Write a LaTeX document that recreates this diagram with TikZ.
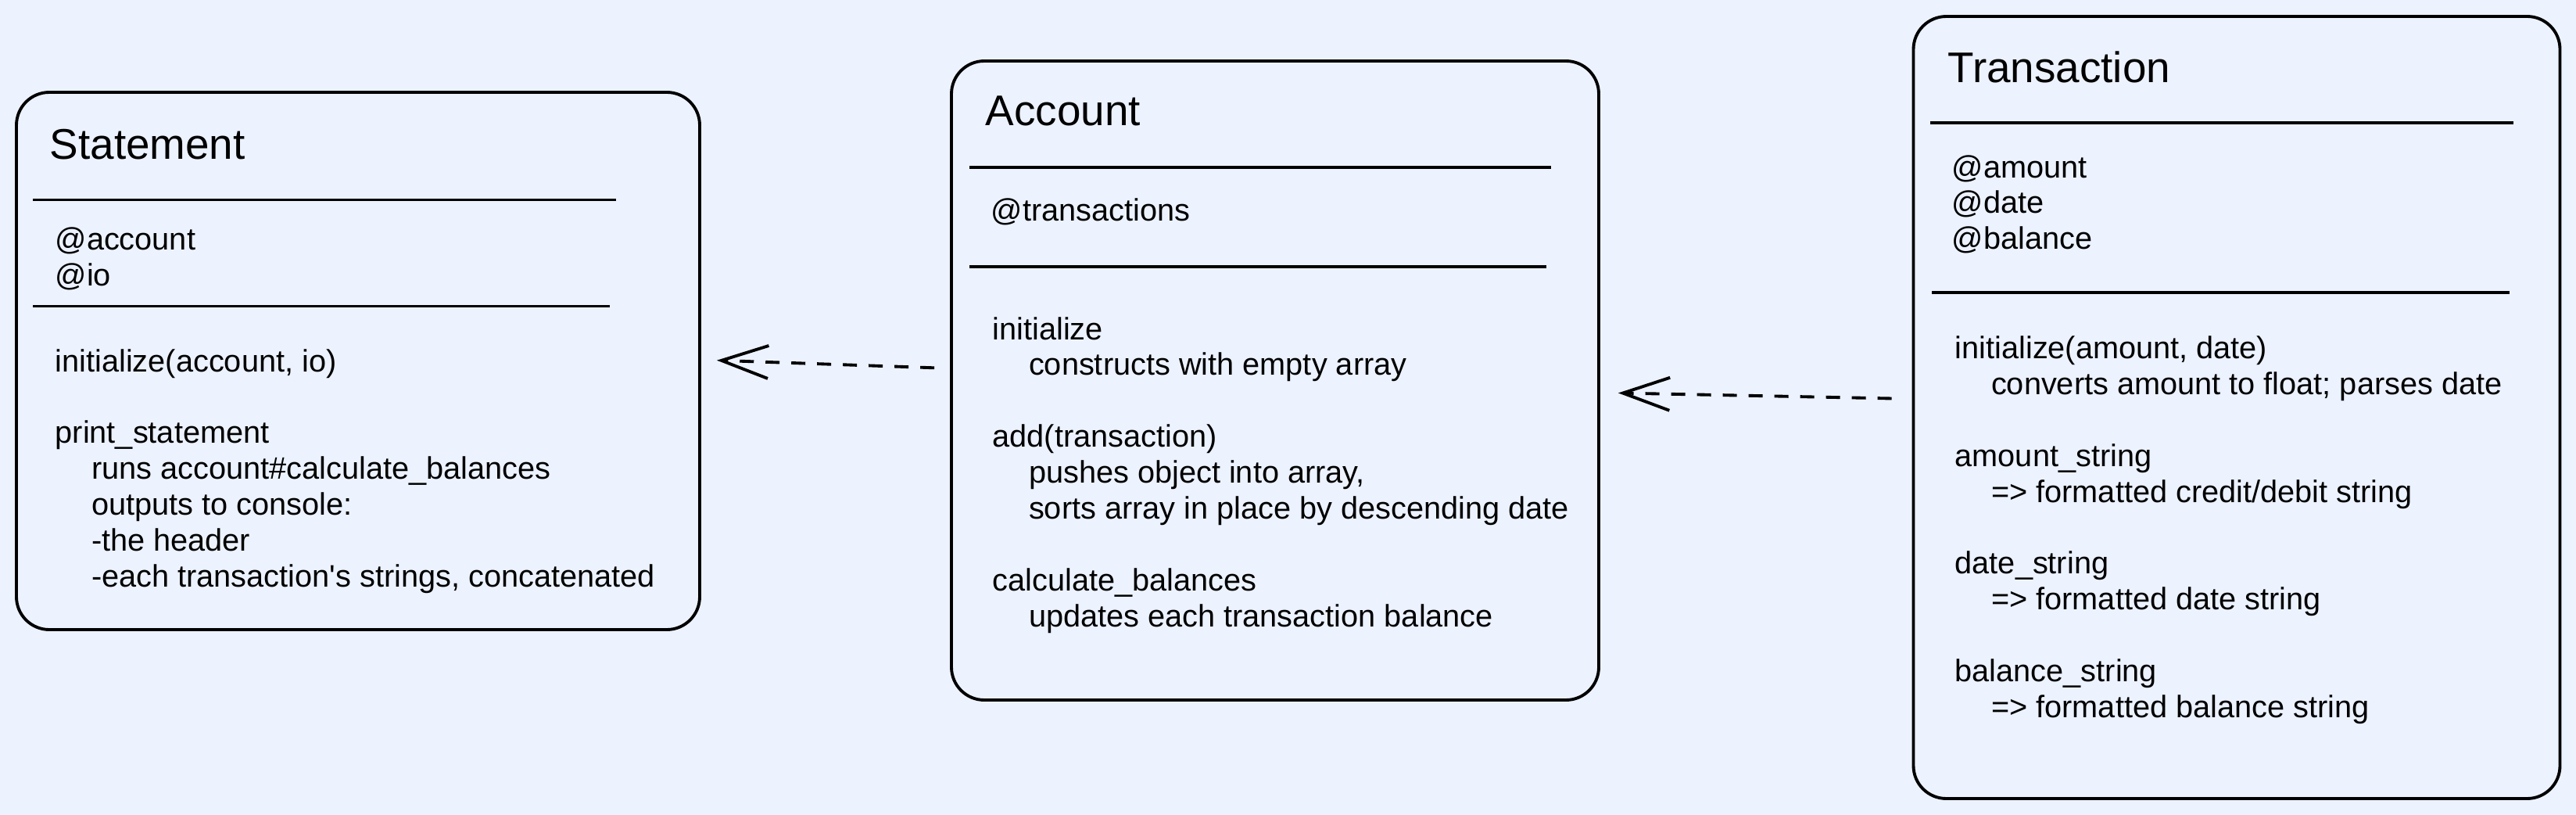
\documentclass[tikz,border=0pt]{standalone}
\usepackage{fontspec}
\setmainfont{Liberation Sans}
\usepackage{xcolor}
\usepackage{tikz}
\usetikzlibrary{arrows.meta}
\definecolor{paper}{RGB}{236,242,254}
\tikzstyle{classbox} = [rectangle, rounded corners=0.42cm, draw=black, line width=1.1pt, inner sep=0pt]
\tikzstyle{classname} = [anchor=base west, inner sep=0pt, font=\fontsize{15.6}{18}\selectfont]
\tikzstyle{members} = [anchor=base west, inner sep=0pt, font=\fontsize{11.3}{13.06}\selectfont]
\tikzstyle{rule} = [line width=1.1pt]
\tikzstyle{depend} = [line width=1.1pt, dash pattern=on 0.18cm off 0.15cm, -{Straight Barb[length=0.6cm,width=0.42cm]}]
\newcommand{\ind}{\hspace*{13.2pt}}
\newcommand{\memberlist}[1]{\begin{tabular}[t]{@{}l@{}}#1\end{tabular}}

\begin{document}
\begin{tikzpicture}

				% Background and page size
				\fill[paper] (0,0) rectangle (32.95,-10.42);
				\useasboundingbox (0,0) rectangle (32.95,-10.42);

				% Class boxes
				\node (stmt) [classbox, minimum width=8.74cm, minimum height=6.87cm] at (4.58,-4.615) {};
				\node (acct) [classbox, minimum width=8.28cm, minimum height=8.17cm] at (16.31,-4.865) {};
				\node (trans) [classbox, minimum width=8.27cm, minimum height=10.0cm] at (28.61,-5.21) {};

				% Statement
				\node (stmtname) [classname] at (0.63,-2.03) {Statement};
				\draw [rule] (0.42,-2.555) -- (7.88,-2.555);
				\node (stmtattrs) [members] at (0.70,-3.195) {\memberlist{@account\\@io}};
				\draw [rule] (0.42,-3.915) -- (7.80,-3.915);
				\node (stmtmethods) [members] at (0.70,-4.75) {\memberlist{initialize(account, io)\\[13.06pt]
					print\_statement\\
					\ind runs account\#calculate\_balances\\
					\ind outputs to console:\\
					\ind -the header\\
					\ind -each transaction\textquotesingle s strings, concatenated}};

				% Account
				\node (acctname) [classname] at (12.60,-1.61) {Account};
				\draw [rule] (12.40,-2.14) -- (19.84,-2.14);
				\node (acctattrs) [members] at (12.67,-2.82) {\memberlist{@transactions}};
				\draw [rule] (12.40,-3.41) -- (19.78,-3.41);
				\node (acctmethods) [members] at (12.69,-4.34) {\memberlist{initialize\\
					\ind constructs with empty array\\[13.06pt]
					add(transaction)\\
					\ind pushes object into array,\\
					\ind sorts array in place by descending date\\[13.06pt]
					calculate\_balances\\
					\ind updates each transaction balance}};

				% Transaction
				\node (transname) [classname] at (24.91,-1.05) {Transaction};
				\draw [rule] (24.69,-1.57) -- (32.15,-1.57);
				\node (transattrs) [members] at (24.96,-2.27) {\memberlist{@amount\\@date\\@balance}};
				\draw [rule] (24.71,-3.74) -- (32.10,-3.74);
				\node (transmethods) [members] at (25.00,-4.585) {\memberlist{initialize(amount, date)\\
					\ind converts amount to float; parses date\\[13.06pt]
					amount\_string\\
					\ind => formatted credit/debit string\\[13.06pt]
					date\_string\\
					\ind => formatted date string\\[13.06pt]
					balance\_string\\
					\ind => formatted balance string}};

				% Dependencies
				\draw [depend, shorten <=0.2cm, shorten >=0.2cm] ([yshift=0.155cm]acct.west) -- ([yshift=0.015cm]stmt.east);
				\draw [depend, shorten <=0.26cm, shorten >=0.23cm] ([yshift=0.11cm]trans.west) -- ([yshift=-0.155cm]acct.east);

\end{tikzpicture}
\end{document}
